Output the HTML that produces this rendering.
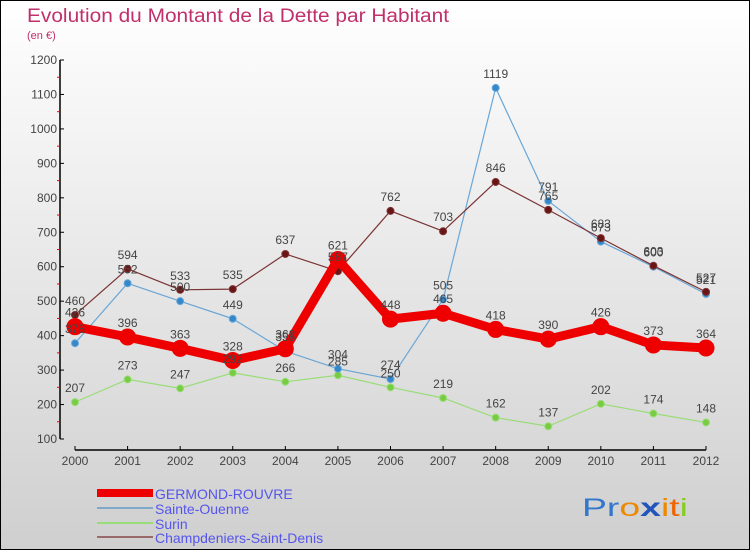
<!DOCTYPE html>
<html><head><meta charset="utf-8"><style>
html,body{margin:0;padding:0}
body{width:750px;height:550px;overflow:hidden;font-family:"Liberation Sans",sans-serif}
svg text{font-family:"Liberation Sans",sans-serif}
</style></head><body>
<svg id="chart" width="750" height="550" viewBox="0 0 750 550">
<defs><linearGradient id="bg" x1="0" y1="0" x2="0" y2="1"><stop offset="0" stop-color="#ffffff"/><stop offset="1" stop-color="#cfcfcf"/></linearGradient></defs>
<rect x="0.5" y="0.5" width="749" height="549" fill="url(#bg)" stroke="#000"/>
<text x="27" y="22" font-size="19" fill="#c0306a" textLength="422" lengthAdjust="spacingAndGlyphs">Evolution du Montant de la Dette par Habitant</text>
<text x="27" y="39" font-size="11" fill="#c0306a">(en €)</text>
<g id="axes"></g>
<g id="series"></g>
<g id="labels"></g>
<g>
<rect x="97" y="489" width="56" height="8" fill="#ee0000"/>
<text x="155" y="499" font-size="14" fill="#5555ee">GERMOND-ROUVRE</text>
<rect x="97" y="507" width="56" height="2" fill="#80a8c8"/>
<text x="155" y="514" font-size="14" fill="#5555ee">Sainte-Ouenne</text>
<rect x="97" y="522" width="56" height="2" fill="#99dd77"/>
<text x="155" y="529" font-size="14" fill="#5555ee">Surin</text>
<rect x="97" y="536" width="56" height="2" fill="#9a6a6a"/>
<text x="155" y="543" font-size="14" fill="#5555ee">Champdeniers-Saint-Denis</text>
</g>
<text x="582" y="516" font-size="25" font-family="DejaVu Sans, sans-serif" textLength="106" lengthAdjust="spacingAndGlyphs"><tspan fill="#3377cc">Pr</tspan><tspan fill="#ee8800">o</tspan><tspan fill="#2255bb" font-weight="bold">x</tspan><tspan fill="#ee8800">i</tspan><tspan fill="#ee6600">t</tspan><tspan fill="#88cc22">i</tspan></text>
</svg>
<script>
const years=[2000,2001,2002,2003,2004,2005,2006,2007,2008,2009,2010,2011,2012];
const germond=[426,396,363,328,362,621,448,465,418,390,426,373,364];
const sainteOuenne=[378,552,500,449,355,304,274,505,1119,791,673,600,521];
const surin=[207,273,247,292,266,285,250,219,162,137,202,174,148];
const champdeniers=[460,594,533,535,637,587,762,703,846,765,683,603,527];
const yTicks=[100,200,300,400,500,600,700,800,900,1000,1100,1200];
const NS='http://www.w3.org/2000/svg';
const X=i=>75+i*(706-75)/(years.length-1);
const Y=v=>439-(v-100)*(439-60)/1100;
function mk(tag,attrs,parent,txt){const e=document.createElementNS(NS,tag);for(const k in attrs)e.setAttribute(k,attrs[k]);if(txt!==undefined)e.textContent=txt;parent.appendChild(e);return e;}
const ax=document.getElementById('axes');
let e=mk('line',{x1:60,y1:Y(1200),x2:60,y2:Y(100),stroke:'#000','stroke-width':1.5},ax);


yTicks.forEach(v=>{
 mk('line',{x1:60,y1:Y(v),x2:64,y2:Y(v),stroke:'#000'},ax);
 if(v<1200)mk('line',{x1:57,y1:Y(v+50),x2:60,y2:Y(v+50),stroke:'#ee0000'},ax);
 const t=mk('text',{x:57,y:Y(v)+4,'font-size':12,'text-anchor':'end',fill:'#444'},ax,v);
 
 
});
e=mk('line',{x1:X(0),y1:450,x2:X(12),y2:450,stroke:'#000','stroke-width':1.5},ax);


years.forEach((y,i)=>{
 mk('line',{x1:X(i),y1:446,x2:X(i),y2:450,stroke:'#000'},ax);
 const t=mk('text',{x:X(i),y:465,'font-size':12,'text-anchor':'middle',fill:'#444'},ax,y);
 
 
});
const sg=document.getElementById('series'),lg=document.getElementById('labels');
function series(vals,name,color,lw,r,fill){
 const p=mk('polyline',{points:vals.map((v,i)=>X(i)+','+Y(v)).join(' '),fill:'none',stroke:color,'stroke-width':lw,'stroke-linejoin':'round'},sg);
 
 
 vals.forEach((v,i)=>{
  const c=mk('circle',{cx:X(i),cy:Y(v),r:r,fill:fill,stroke:color,'stroke-width':1},sg);
  
  
  const t=mk('text',{x:X(i),y:Y(v)-10,'font-size':12,'text-anchor':'middle',fill:'#444'},lg,v);
  
  
 });
}
series(surin,'surin','#99dd77',1.2,3.5,'#77cc44');
series(sainteOuenne,'sainte-ouenne','#6aa6d6',1.2,3.5,'#3388cc');
series(champdeniers,'champdeniers','#7a3333',1.2,3.5,'#6a1515');
series(germond,'germond-rouvre','#ee0000',9,8,'#ee0000');
</script>
</body></html>
